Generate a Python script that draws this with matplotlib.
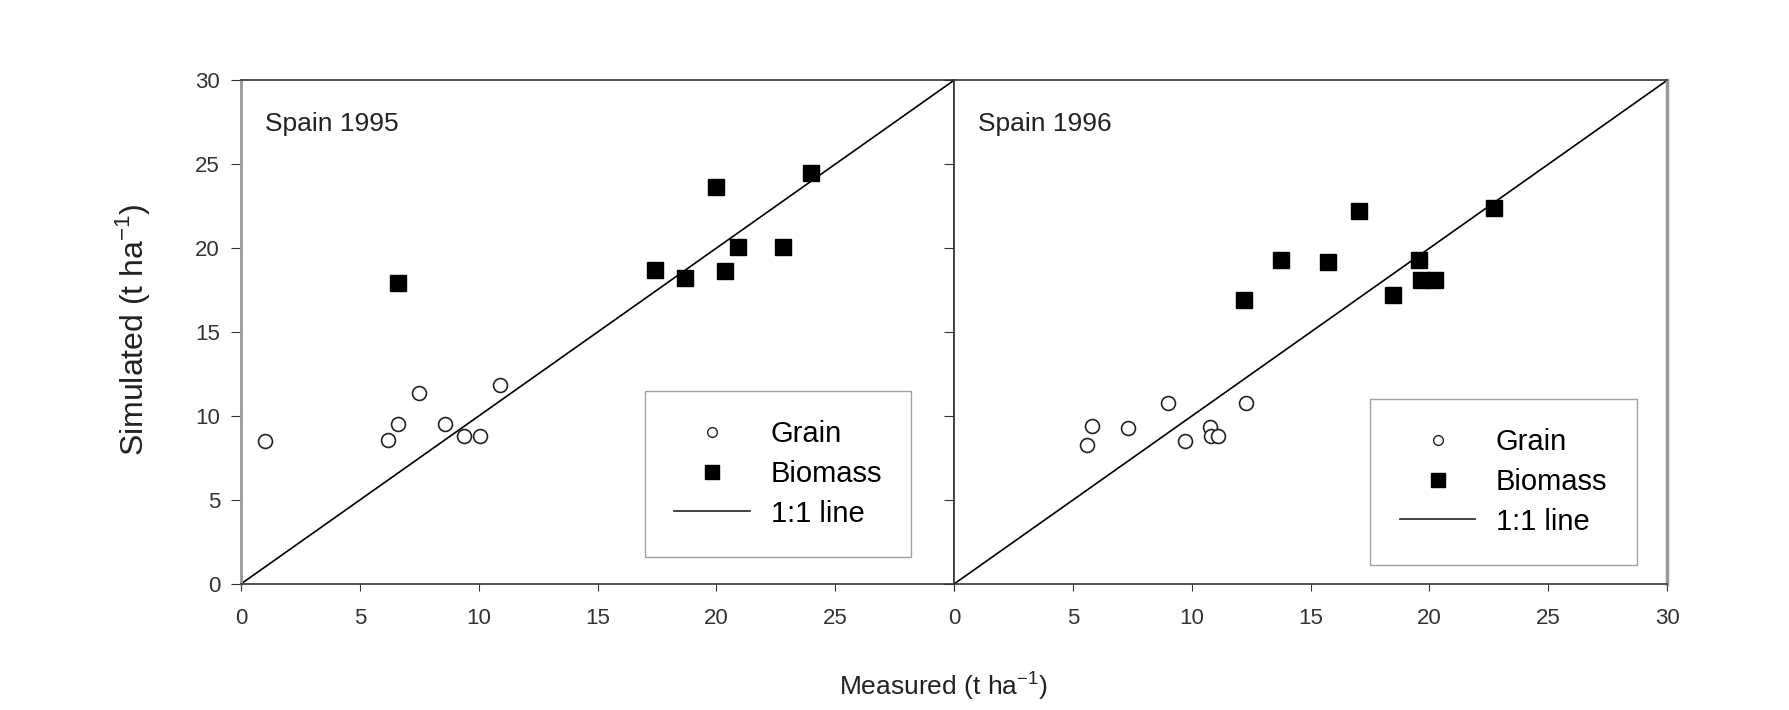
import matplotlib.pyplot as plt
from matplotlib.lines import Line2D

plt.rcParams['font.family'] = ['Liberation Sans', 'DejaVu Sans']
plt.rcParams['mathtext.fontset'] = 'custom'
plt.rcParams['mathtext.rm'] = 'Liberation Sans'

# Spain 1995
grain95_meas = [1.0, 6.2, 6.6, 7.5, 8.6, 9.4, 10.05, 10.9]
grain95_sim = [8.5, 8.6, 9.5, 11.4, 9.5, 8.8, 8.8, 11.85]
bio95_meas = [6.6, 17.4, 18.7, 20.0, 20.35, 20.9, 22.8, 24.0]
bio95_sim = [17.9, 18.7, 18.2, 23.65, 18.65, 20.05, 20.05, 24.5]

# Spain 1996
grain96_meas = [5.6, 5.8, 7.3, 9.0, 9.7, 10.75, 10.8, 11.1, 12.3]
grain96_sim = [8.3, 9.4, 9.3, 10.75, 8.5, 9.35, 8.8, 8.8, 10.75]
bio96_meas = [12.2, 13.75, 15.75, 17.05, 18.45, 19.55, 19.65, 20.25, 22.7]
bio96_sim = [16.9, 19.3, 19.2, 22.2, 17.2, 19.3, 18.1, 18.1, 22.4]

panels = [
    ('Spain 1995', grain95_meas, grain95_sim, bio95_meas, bio95_sim),
    ('Spain 1996', grain96_meas, grain96_sim, bio96_meas, bio96_sim),
]

fig = plt.figure(figsize=(17.9, 7.1), dpi=100)
ax1 = fig.add_axes([0.1346, 0.1775, 0.3984, 0.7095])
ax2 = fig.add_axes([0.533, 0.1775, 0.3984, 0.7095])
legend_pos = [(0.94, 0.054), (0.957, 0.038)]

# legend handles (legend markers are smaller than the plotted ones)
handles = [
    Line2D([], [], marker='o', ls='none', mfc='white', mec='#222222', mew=1.0, ms=7),
    Line2D([], [], marker='s', ls='none', color='black', ms=10),
    Line2D([], [], color='#222222', lw=1.2),
]
labels = ['Grain', 'Biomass', '1:1 line']

for i, (ax, (title, gx, gy, bx, by)) in enumerate(zip([ax1, ax2], panels)):
    ax.plot(gx, gy, 'o', mfc='white', mec='#222222', mew=1.2, ms=10, ls='none')
    ax.plot(bx, by, 's', color='black', ms=11, ls='none')
    ax.plot([0, 30], [0, 30], color='black', lw=1.2)
    ax.set_xlim(0, 30)
    ax.set_ylim(0, 30)
    ax.set_xticks([0, 5, 10, 15, 20, 25, 30])
    ax.set_yticks([0, 5, 10, 15, 20, 25, 30])
    ax.tick_params(direction='out', labelsize=16, colors='#333333')
    ax.tick_params(axis='x', length=5, pad=12)
    ax.tick_params(axis='y', length=7, pad=8)
    ax.text(1.0, 27.4, title, fontsize=19, color='#222222', va='center')
    for s in ax.spines.values():
        s.set_color('#333333')
        s.set_linewidth(1.2)
    leg = ax.legend(handles, labels, loc='lower right', bbox_to_anchor=legend_pos[i],
                    fontsize=21, frameon=True, fancybox=False, edgecolor='#888888',
                    borderpad=1.0, labelspacing=0.4, handlelength=2.6,
                    handletextpad=0.7, borderaxespad=0)
    leg.get_frame().set_linewidth(1.0)

# outer side spines are lighter grey in the original
ax1.spines['left'].set_color('#999999')
ax1.spines['left'].set_linewidth(2)
ax2.spines['right'].set_color('#999999')
ax2.spines['right'].set_linewidth(2.5)

ax1.set_xticklabels(['0', '5', '10', '15', '20', '25', ''])
ax1.set_ylabel('Simulated (t ha$^{\\mathregular{-1}}$)', fontsize=23, color='#222222')
ax1.yaxis.set_label_coords(-0.125, 0.504)
ax2.set_yticklabels([])

fig.text(0.527, 0.035, 'Measured (t ha$^{\\mathregular{-1}}$)', fontsize=19,
         color='#222222', ha='center', va='center')

fig.savefig('out.png', dpi=100)
